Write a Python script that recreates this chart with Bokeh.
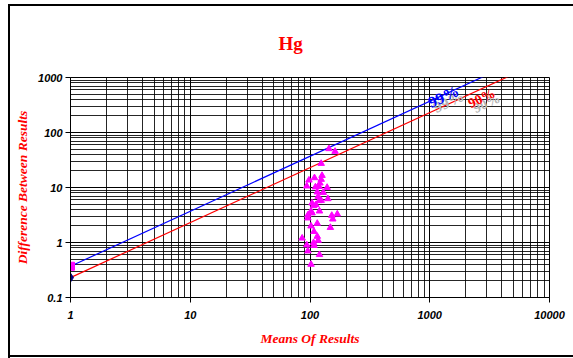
import math
from bokeh.plotting import figure
from bokeh.models import FixedTicker, CustomJSTickFormatter, ColumnDataSource
from bokeh.core.properties import value
from bokeh.embed import file_html
from bokeh.resources import INLINE

# ---- data ----
means = [144, 162, 124, 98, 109, 126, 124, 121, 94, 111, 119, 139, 115, 129,
         117, 141, 124, 119, 104, 112, 107, 120, 102, 96, 104, 152, 169, 96,
         155, 115, 102, 148, 108, 86, 115, 117, 107, 94, 108, 96, 120, 102]
diffs = [50.6, 45.2, 27.3, 13.6, 15.0, 16.5, 14.0, 12.0, 10.6, 10.2, 10.4, 10.0,
         8.25, 8.1, 6.86, 6.23, 5.8, 5.73, 5.2, 4.85, 4.65, 3.72, 3.72, 3.15,
         3.43, 3.1, 3.28, 2.78, 2.66, 2.22, 1.99, 1.87, 1.58, 1.2, 1.29, 1.09,
         0.99, 0.90, 0.88, 0.70, 0.60, 0.40]

line99_x = [1, 10000]
line99_y = [0.37, 3700]
line90_x = [1, 10000]
line90_y = [0.23, 2300]

start99 = (1, 0.37)
start90 = (1, 0.23)

x_ticks = [1, 10, 100, 1000, 10000]
y_ticks = [0.1, 1, 10, 100, 1000]
mantissas = [2, 3, 4, 5, 6, 7, 8, 9]
x_minor = [m * t for t in x_ticks[:-1] for m in mantissas]
y_minor = [m * t for t in y_ticks[:-1] for m in mantissas]

label99 = ("99%", 1300, 450)
label90 = ("90%", 2712, 420)

# outer chart border drawn as CSS background lines on the host element
border_css = ("linear-gradient(#000,#000) 8px 4px / 2px 354px no-repeat, "
              "linear-gradient(#000,#000) 8px 4px / 570px 2px no-repeat, "
              "linear-gradient(#000,#000) 8px 355px / 570px 2px no-repeat")

# ---- figure ----
p = figure(width=573, height=358, x_axis_type="log", y_axis_type="log",
           x_range=(1, 10000), y_range=(0.1, 1000),
           output_backend="svg", toolbar_location=None,
           min_border_left=70, min_border_right=24,
           min_border_top=77, min_border_bottom=61,
           background_fill_color="white", border_fill_color=None,
           styles={"background": border_css})

p.outline_line_color = "black"
p.outline_line_width = 1

p.title.text = "Hg"
p.title.align = "left"
p.title.offset = 208
p.title.vertical_align = "top"
p.title.text_font = "Liberation Serif"
p.title.text_font_style = "bold"
p.title.text_font_size = "19px"
p.title.text_color = "red"
p.title.standoff = 44

for ax, ticks, minor in ((p.xaxis, x_ticks, x_minor), (p.yaxis, y_ticks, y_minor)):
    ax.ticker = FixedTicker(ticks=ticks, minor_ticks=minor)
    ax.formatter = CustomJSTickFormatter(code="return tick.toString();")
    ax.major_label_text_font = "Liberation Sans"
    ax.major_label_text_font_style = "bold italic"
    ax.major_label_text_font_size = "11px"
    ax.major_label_text_color = "black"
    ax.axis_line_color = "black"
    ax.major_tick_line_color = "black"
    ax.major_tick_out = 5
    ax.major_tick_in = 0
    ax.minor_tick_line_color = None
    ax.axis_label_text_font = "Liberation Serif"
    ax.axis_label_text_font_style = "bold italic"
    ax.axis_label_text_font_size = "13.5px"
    ax.axis_label_text_color = "red"

p.xaxis.axis_label = "Means Of Results"
p.yaxis.axis_label = "Difference Between Results"
p.xaxis.major_label_standoff = 8
p.xaxis.axis_label_standoff = 9
p.yaxis.major_label_standoff = 3
p.yaxis.axis_label_standoff = 5

for g in (p.xgrid, p.ygrid):
    g.grid_line_color = "black"
    g.grid_line_width = 1
    g.minor_grid_line_color = "black"
    g.minor_grid_line_width = 1
    g.minor_grid_line_alpha = 0.85

# limit lines
p.line(line99_x, line99_y, line_color="blue", line_width=1.2)
p.line(line90_x, line90_y, line_color="red", line_width=1.2)

# start markers
p.scatter([start99[0]], [start99[1]], marker="square", size=8,
          fill_color="magenta", line_color="magenta")
p.scatter([start90[0]], [start90[1]], marker="diamond", size=9,
          fill_color="navy", line_color="navy")

# data points
src = ColumnDataSource(dict(x=means, y=diffs))
p.scatter("x", "y", source=src, marker="triangle", size=6.5,
          fill_color="magenta", line_color="magenta")

# line labels with shadow
ang = math.atan2(55, 120)
for (txt, lx, ly), col, fs in ((label99, "blue", "16px"), (label90, "red", "14px")):
    p.text([lx], [ly], text=[txt], text_color="#b4b4b4", angle=ang,
           text_align="center", text_baseline="middle",
           text_font=value("Liberation Serif"), text_font_style="bold",
           text_font_size=fs, x_offset=5, y_offset=5)
    p.text([lx], [ly], text=[txt], text_color=col, angle=ang,
           text_align="center", text_baseline="middle",
           text_font=value("Liberation Serif"), text_font_style="bold",
           text_font_size=fs)

open("out.html", "w").write(file_html(p, INLINE))
